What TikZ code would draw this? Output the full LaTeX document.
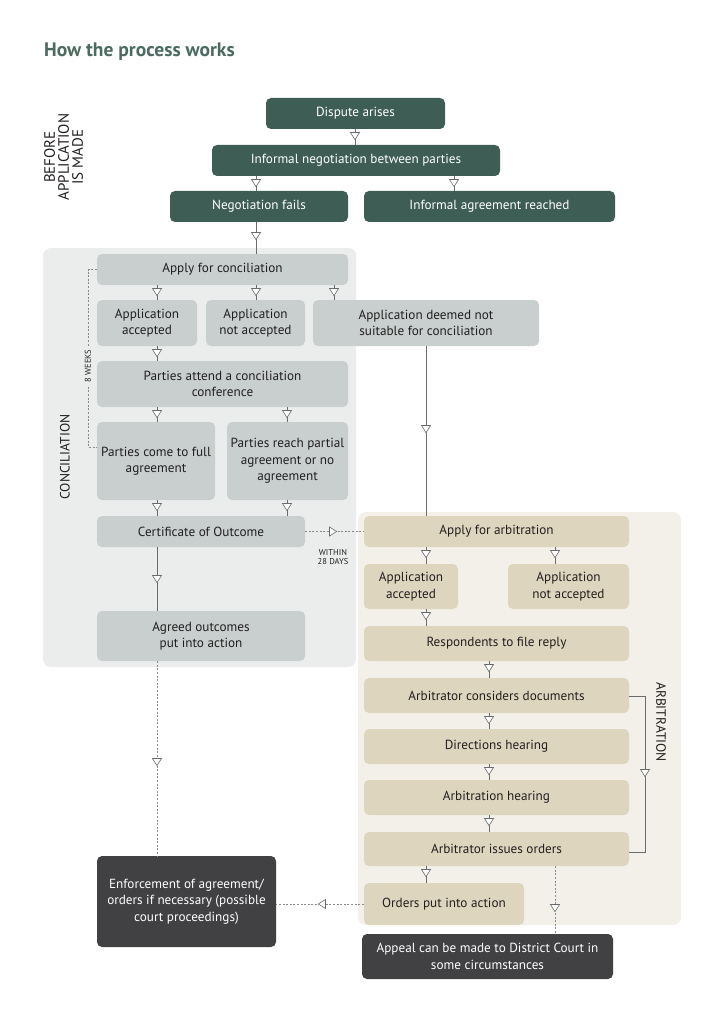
\documentclass[tikz,border=0pt]{standalone}
\usepackage{fontspec}
\setmainfont{PT Sans}
\usetikzlibrary{arrows.meta,decorations.markings}
\definecolor{dgreen}{HTML}{3E5E55}
\definecolor{titlec}{HTML}{4B6B5F}
\definecolor{gbox}{HTML}{C9CFCE}
\definecolor{gpanel}{HTML}{EBEDEC}
\definecolor{tbox}{HTML}{DDD5BD}
\definecolor{tpanel}{HTML}{F2F0E8}
\definecolor{darkb}{HTML}{414042}
\definecolor{linec}{HTML}{6A6B6D}
\definecolor{txt}{HTML}{231F20}
\tikzset{
  Tri/.tip={Triangle[width=10pt,length=8pt,fill=white,line width=0.6pt]},
  wh/.style 2 args={minimum width=#1pt, minimum height=#2pt},
  basebox/.style={rounded corners=5pt, inner sep=0pt, align=center, font=\fontsize{13.2}{16.5}\selectfont},
  greenbox/.style={basebox, fill=dgreen, text=white},
  greybox/.style={basebox, fill=gbox, text=txt},
  tanbox/.style={basebox, fill=tbox, text=txt},
  darkbox/.style={basebox, fill=darkb, text=white},
  ln/.style={draw=linec, line width=0.7pt},
  dashln/.style={draw=linec!80, line width=0.7pt, dash pattern=on 2pt off 1.6pt},
  tri/.style={postaction={decorate,decoration={markings,mark=at position #1pt with {\arrow[color=linec]{Tri}}}}},
  sidelabel/.style={font=\fontsize{13.5}{13.5}\selectfont, text=txt, align=center, inner sep=1pt},
  smalllabel/.style={font=\fontsize{8.5}{9.5}\selectfont, text=txt, align=center, inner sep=1pt}
}
\begin{document}
\begin{tikzpicture}[x=1pt,y=-1pt]
\useasboundingbox (0,0) rectangle (724,1024);
\fill[white] (0,0) rectangle (724,1024);
% panels
\fill[gpanel, rounded corners=8pt] (43,248) rectangle (356,667);
\fill[tpanel, rounded corners=8pt] (358,512) rectangle (681,925);
% title
\node[anchor=base west, font=\fontsize{19.5}{22}\bfseries\selectfont, text=titlec, inner sep=0pt] (title) at (44,57) {How the process works};
% column coordinates
\coordinate (cA) at (157,0);
\coordinate (cB) at (256,0);
\coordinate (cC) at (334,0);
\coordinate (cD) at (287,0);
\coordinate (cE) at (426,0);
\coordinate (cF) at (555,0);
\coordinate (cG) at (489,0);
\coordinate (cH) at (454,0);
\coordinate (cI) at (355,0);
% top boxes
\node[greenbox, wh={179}{31}] (dispute) at (355.5,113.5) {Dispute arises};
\node[greenbox, wh={288}{31}] (informal) at (356,160.5) {Informal negotiation between parties};
\node[greenbox, wh={178}{31}] (negfails) at (259,206.5) {Negotiation fails};
\node[greenbox, wh={251}{31}] (agreement) at (489.5,206.5) {Informal agreement reached};
% conciliation
\node[greybox, wh={251}{31}] (applyc) at (222.5,269.5) {Apply for conciliation};
\node[greybox, wh={100}{46}] (accc) at (147,323) {Application\\accepted};
\node[greybox, wh={99}{46}] (naccc) at (255.5,323) {Application\\not accepted};
\node[greybox, wh={226}{46}] (deemed) at (426,323) {Application deemed not\\suitable for conciliation};
\node[greybox, wh={251}{46}] (attend) at (222.5,384) {Parties attend a conciliation\\conference};
\node[greybox, wh={118}{78}] (full) at (156,461) {Parties come to full\\agreement};
\node[greybox, wh={121}{78}] (partial) at (287.5,461) {Parties reach partial\\agreement or no\\agreement};
\node[greybox, wh={208}{31}] (cert) at (201,531.5) {Certificate of Outcome};
\node[greybox, wh={208}{50}] (agreed) at (201,636) {Agreed outcomes\\put into action};
% arbitration
\node[tanbox, wh={265}{31}] (applya) at (496.5,531.5) {Apply for arbitration};
\node[tanbox, wh={94}{45}] (acca) at (411,586.5) {Application\\accepted};
\node[tanbox, wh={121}{45}] (nacca) at (568.5,586.5) {Application\\not accepted};
\node[tanbox, wh={265}{35}] (resp) at (496.5,643.5) {Respondents to file reply};
\node[tanbox, wh={265}{35}] (considers) at (496.5,695.5) {Arbitrator considers documents};
\node[tanbox, wh={265}{35}] (directions) at (496.5,746.5) {Directions hearing};
\node[tanbox, wh={265}{35}] (hearing) at (496.5,797.5) {Arbitration hearing};
\node[tanbox, wh={265}{34}] (issues) at (496.5,849) {Arbitrator issues orders};
\node[tanbox, wh={160}{42}] (orders) at (444,904) {Orders put into action};
% dark boxes
\node[darkbox, wh={251}{45}] (appeal) at (487.5,956.5) {Appeal can be made to District Court in\\some circumstances};
\node[darkbox, wh={179}{91}] (enforce) at (186.5,901.5) {Enforcement of agreement/\\orders if necessary (possible\\court proceedings)};
% side labels
\node[sidelabel, rotate=90, font=\fontsize{15}{14}\selectfont] (before) at (63.5,157) {BEFORE\\APPLICATION\\IS MADE};
\node[sidelabel, rotate=90] (concl) at (65,457) {CONCILIATION};
\node[sidelabel, rotate=-90] (arbl) at (661,722) {ARBITRATION};
% connectors top
\draw[ln, tri=11] (dispute.south -| cI) -- (informal.north -| cI);
\draw[ln, tri=11] (informal.south -| cB) -- (negfails.north -| cB);
\draw[ln, tri=11] (informal.south -| cH) -- (agreement.north -| cH);
\draw[ln, tri=18] (negfails.south -| cB) -- (applyc.north -| cB);
% conciliation connectors
\draw[ln, tri=11] (applyc.south -| cA) -- (accc.north -| cA);
\draw[ln, tri=11] (applyc.south -| cB) -- (naccc.north -| cB);
\draw[ln, tri=11] (applyc.south -| cC) -- (deemed.north -| cC);
\draw[ln, tri=11] (accc.south -| cA) -- (attend.north -| cA);
\draw[ln, tri=11] (attend.south -| cA) -- (full.north -| cA);
\draw[ln, tri=11] (attend.south -| cD) -- (partial.north -| cD);
\draw[ln, tri=11] (full.south -| cA) -- (cert.north -| cA);
\draw[ln, tri=11] (partial.south -| cD) -- (cert.north -| cD);
\draw[ln, tri=36] (cert.south -| cA) -- (agreed.north -| cA);
% 8 weeks bracket
\coordinate (bTop) at (88,269.5);
\coordinate (bBot) at (88,447);
\draw[dashln] (applyc.west) -- (bTop) -- (bBot) -- (full.west |- bBot);
\node[smalllabel, rotate=90, fill=gpanel, inner sep=3pt] (weeks) at (88,366) {8 WEEKS};
% cross connectors
\draw[ln, tri=87] (deemed.south -| cE) -- (applya.north -| cE);
\draw[dashln, tri=32] (cert.east) -- (applya.west);
\node[smalllabel] (within) at (333,557) {WITHIN\\28 DAYS};
% arbitration connectors
\draw[ln, tri=11] (applya.south -| cE) -- (acca.north -| cE);
\draw[ln, tri=11] (applya.south -| cF) -- (nacca.north -| cF);
\draw[ln, tri=11] (acca.south -| cE) -- (resp.north -| cE);
\draw[ln, tri=11] (resp.south -| cG) -- (considers.north -| cG);
\draw[ln, tri=11] (considers.south -| cG) -- (directions.north -| cG);
\draw[ln, tri=11] (directions.south -| cG) -- (hearing.north -| cG);
\draw[ln, tri=11] (hearing.south -| cG) -- (issues.north -| cG);
\draw[ln, tri=11] (issues.south -| cE) -- (orders.north -| cE);
\draw[dashln, tri=46] (issues.south -| cF) -- (appeal.north -| cF);
\draw[dashln, tri=46] (orders.west) -- (enforce.east |- orders.west);
\draw[dashln, tri=105] (agreed.south -| cA) -- (enforce.north -| cA);
% arbitration bracket
\coordinate (rTop) at (645,696);
\coordinate (rBot) at (645,852);
\draw[ln, tri=97] (considers.east |- rTop) -- (rTop) -- (rBot) -- (issues.east |- rBot);
\end{tikzpicture}
\end{document}
